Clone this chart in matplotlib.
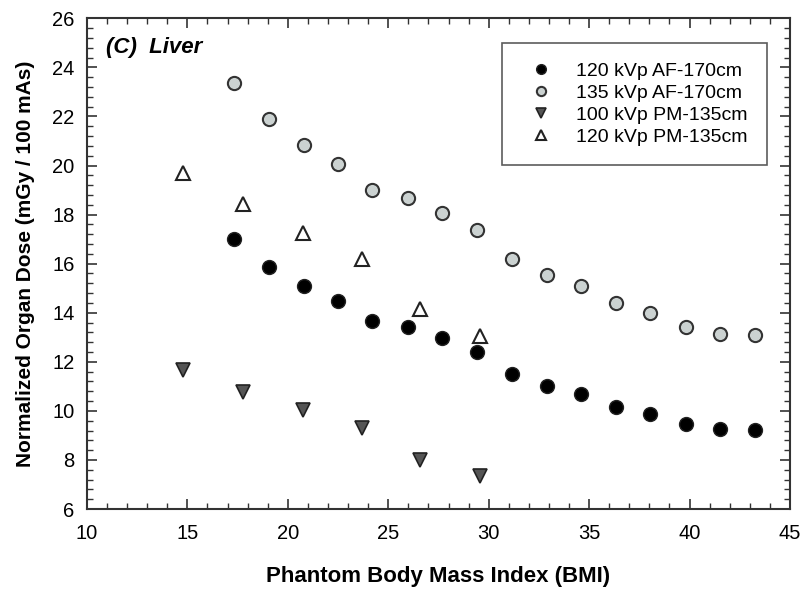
import matplotlib.pyplot as plt
from matplotlib.ticker import MultipleLocator

plt.rcParams["font.family"] = ["Liberation Sans", "DejaVu Sans"]

# 120 kVp AF-170cm / 135 kVp AF-170cm share the same BMI values
bmi_af = [17.3, 19.05, 20.8, 22.5, 24.2, 26.0, 27.7, 29.4,
          31.15, 32.9, 34.6, 36.35, 38.05, 39.8, 41.5, 43.25]
dose_120_af = [17.0, 15.86, 15.07, 14.46, 13.67, 13.42, 12.95, 12.42,
               11.5, 11.01, 10.67, 10.17, 9.87, 9.46, 9.25, 9.22]
dose_135_af = [23.38, 21.91, 20.85, 20.05, 18.99, 18.67, 18.07, 17.37,
               16.17, 15.54, 15.09, 14.39, 13.98, 13.41, 13.15, 13.09]

bmi_pm = [14.8, 17.75, 20.75, 23.7, 26.6, 29.55]
dose_100_pm = [11.65, 10.75, 10.02, 9.3, 8.0, 7.33]
dose_120_pm = [19.7, 18.42, 17.24, 16.18, 14.15, 13.04]

fig = plt.figure(figsize=(8.03, 5.89), dpi=100)
ax = fig.add_axes([0.1083, 0.1358, 0.8755, 0.8331])

ax.plot(bmi_af, dose_120_af, "o", ms=10, mfc="black", mec="#222222",
        mew=1.0, label="120 kVp AF-170cm")
ax.plot(bmi_af, dose_135_af, "o", ms=9.5, mfc="#cbd2d1", mec="#333333",
        mew=1.5, label="135 kVp AF-170cm")
ax.plot(bmi_pm, dose_100_pm, "v", ms=9.5, mfc="#555555", mec="#222222",
        mew=1.2, label="100 kVp PM-135cm")
ax.plot(bmi_pm, dose_120_pm, "^", ms=9.5, mfc="white", mec="#222222",
        mew=1.5, label="120 kVp PM-135cm")

ax.set_xlim(10, 45)
ax.set_ylim(6, 26)
ax.xaxis.set_major_locator(MultipleLocator(5))
ax.xaxis.set_minor_locator(MultipleLocator(1))
ax.yaxis.set_major_locator(MultipleLocator(2))
ax.yaxis.set_minor_locator(MultipleLocator(0.4))
ax.tick_params(which="both", direction="in", top=True, right=True,
               color="#333333", labelsize=14.5)
ax.tick_params(axis="x", pad=11)
ax.tick_params(axis="y", pad=9)
ax.tick_params(which="major", length=7, width=1.2)
ax.tick_params(which="minor", length=4, width=1.0)
for s in ax.spines.values():
    s.set_color("#333333")
    s.set_linewidth(1.5)

ax.set_xlabel("Phantom Body Mass Index (BMI)", fontsize=16,
              fontweight="bold", labelpad=16)
ax.set_ylabel("Normalized Organ Dose (mGy / 100 mAs)", fontsize=15,
              fontweight="bold", labelpad=12)

ax.text(0.027, 0.962, "(C)  Liver", transform=ax.transAxes, fontsize=16,
        fontweight="bold", style="italic", va="top")

leg = ax.legend(loc="upper right", bbox_to_anchor=(0.967, 0.95), fontsize=14,
                frameon=True, fancybox=False, edgecolor="#333333",
                borderpad=1.0, handlelength=2.0, handletextpad=0.8,
                labelspacing=0.22, borderaxespad=0, markerscale=0.7)
leg.get_frame().set_linewidth(1.2)

fig.savefig("out.png", dpi=100)
